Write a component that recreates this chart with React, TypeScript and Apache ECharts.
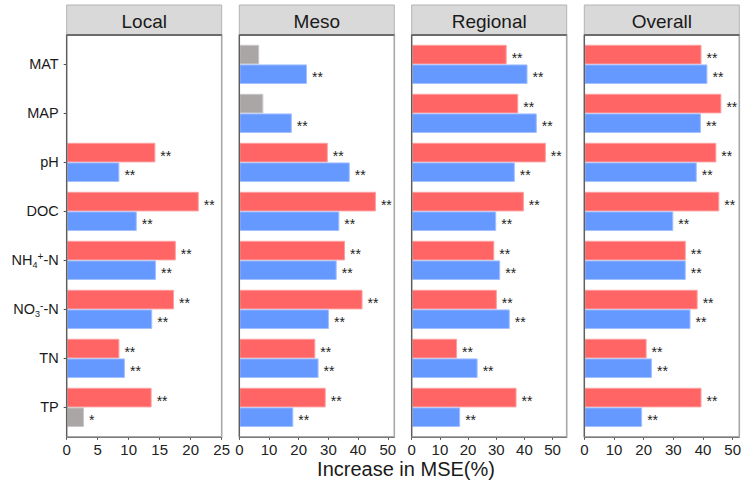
import React, { useEffect, useRef } from 'react';
import * as echarts from 'echarts';

// Predictor variables (top to bottom) and the four spatial scales
const categories = ['MAT', 'MAP', 'pH', 'DOC', 'NH4+-N', 'NO3--N', 'TN', 'TP'];
const panels = ['Local', 'Meso', 'Regional', 'Overall'];

// Increase in MSE (%) – upper (red) and lower (blue) bar of each variable
const localUpper = [null, null, 14.3, 21.3, 17.6, 17.3, 8.5, 13.7];
const localLower = [null, null, 8.5, 11.3, 14.4, 13.8, 9.4, 2.8];
const mesoUpper = [6.7, 8.1, 29.8, 46.0, 35.6, 41.5, 25.6, 29.1];
const mesoLower = [22.8, 17.7, 37.2, 33.7, 32.8, 30.2, 26.7, 18.2];
const regionalUpper = [33.7, 37.8, 47.6, 39.8, 29.3, 30.2, 16.1, 37.2];
const regionalLower = [41.1, 44.4, 36.6, 30.0, 31.4, 34.8, 23.4, 17.2];
const overallUpper = [39.5, 46.2, 44.5, 45.5, 34.2, 38.2, 21.0, 39.5];
const overallLower = [41.5, 39.3, 37.9, 30.0, 34.2, 35.8, 22.8, 19.5];

// Significance marks ('**' bars are coloured, anything else is grey)
const localUpperSig = ['', '', '**', '**', '**', '**', '**', '**'];
const localLowerSig = ['', '', '**', '**', '**', '**', '**', '*'];
const mesoUpperSig = ['', '', '**', '**', '**', '**', '**', '**'];
const mesoLowerSig = ['**', '**', '**', '**', '**', '**', '**', '**'];
const regionalUpperSig = ['**', '**', '**', '**', '**', '**', '**', '**'];
const regionalLowerSig = ['**', '**', '**', '**', '**', '**', '**', '**'];
const overallUpperSig = ['**', '**', '**', '**', '**', '**', '**', '**'];
const overallLowerSig = ['**', '**', '**', '**', '**', '**', '**', '**'];

// x-axis limits and tick steps per panel
const axisMax = [25, 52.2, 55, 52.2];
const axisStep = [5, 10, 10, 10];

const upperSets = [localUpper, mesoUpper, regionalUpper, overallUpper];
const lowerSets = [localLower, mesoLower, regionalLower, overallLower];
const upperSigs = [localUpperSig, mesoUpperSig, regionalUpperSig, overallUpperSig];
const lowerSigs = [localLowerSig, mesoLowerSig, regionalLowerSig, overallLowerSig];

const RED = '#FF6565';
const BLUE = '#6699FF';
const GREY = '#AAA6A6';
const RED_EDGE = '#FF9C9C';
const BLUE_EDGE = '#A3C0FF';
const GREY_EDGE = '#CAC7C7';
const FONT = '"Liberation Sans", Arial, sans-serif';
const AXIS_DARK = '#4D4D4D';

// Layout (pixels)
const panelLefts = [66.7, 239.3, 411.7, 584.3];
const panelWidth = 155;
const stripTop = 5;
const stripHeight = 30;
const panelTop = 35;
const panelBottom = 436.8;
const bandPad = 4.9; // discrete-axis expansion above/below the first/last category

const richLabel = (c: string) => {
  if (c === 'NH4+-N') return '{t|NH}{sub|4}{sup|+}{t|-N}';
  if (c === 'NO3--N') return '{t|NO}{sub|3}{sup|-}{t|-N}';
  return '{t|' + c + '}';
};

function makeBar(name: string, values: (number | null)[], sigs: string[], color: string, edge: string, i: number) {
  return {
    type: 'bar',
    name,
    xAxisIndex: i,
    yAxisIndex: i,
    barGap: '0%',
    barCategoryGap: '20%',
    data: values.map((v, k) => {
      const grey = sigs[k] !== '**';
      return {
        value: v === null ? '-' : v,
        itemStyle: {
          color: grey ? GREY : color,
          borderColor: grey ? GREY_EDGE : edge,
          borderWidth: 1,
        },
      };
    }),
    label: {
      show: true,
      position: 'right',
      distance: 5,
      offset: [0, 3],
      fontFamily: FONT,
      fontSize: 14,
      color: '#222222',
      formatter: (p: any) => (values[p.dataIndex] === null ? '' : sigs[p.dataIndex]),
    },
  };
}

export default function App() {
  const ref = useRef<HTMLDivElement>(null);

  useEffect(() => {
    if (!ref.current) return;
    const chart = echarts.init(ref.current, null, { renderer: 'svg' });

    const grids = panels.map((_, i) => ({
      left: panelLefts[i],
      width: panelWidth,
      top: panelTop + bandPad,
      height: panelBottom - panelTop - 2 * bandPad,
      containLabel: false,
    }));

    const xAxes = panels.map((_, i) => ({
      type: 'value',
      gridIndex: i,
      min: 0,
      max: axisMax[i],
      interval: axisStep[i],
      offset: bandPad,
      splitLine: { show: false },
      axisLine: { show: true, lineStyle: { color: AXIS_DARK, width: 1 } },
      axisTick: { show: true, length: 3, lineStyle: { color: AXIS_DARK } },
      axisLabel: {
        show: true,
        margin: 5,
        fontFamily: FONT,
        fontSize: 15,
        color: '#222222',
        showMaxLabel: i === 0,
        showMinLabel: true,
      },
    }));

    const yAxes = panels.map((_, i) => ({
      type: 'category',
      gridIndex: i,
      data: categories,
      inverse: true,
      axisLine: { show: false },
      axisTick: { show: i === 0, length: 3, alignWithLabel: true, lineStyle: { color: AXIS_DARK } },
      axisLabel: {
        show: i === 0,
        margin: 8,
        formatter: richLabel,
        rich: {
          t: { fontFamily: FONT, fontSize: 14.5, color: '#1A1A1A', lineHeight: 18 },
          sub: { fontFamily: FONT, fontSize: 9, color: '#1A1A1A', lineHeight: 10, verticalAlign: 'bottom' },
          sup: { fontFamily: FONT, fontSize: 10, color: '#1A1A1A', lineHeight: 10, verticalAlign: 'top' },
        },
      },
      splitLine: { show: false },
    }));

    const series = panels.flatMap((_, i) => [
      makeBar('upper', upperSets[i], upperSigs[i], RED, RED_EDGE, i),
      makeBar('lower', lowerSets[i], lowerSigs[i], BLUE, BLUE_EDGE, i),
    ]);

    const graphics: any[] = [];
    panels.forEach((title, i) => {
      const x = panelLefts[i];
      // facet strip
      graphics.push({
        type: 'rect',
        shape: { x, y: stripTop, width: panelWidth, height: stripHeight },
        style: { fill: '#D9D9D9', stroke: '#B3B3B3', lineWidth: 1 },
        z: 10,
      });
      graphics.push({
        type: 'text',
        x: x + panelWidth / 2,
        y: stripTop + stripHeight / 2 + 1,
        style: {
          text: title,
          fontFamily: FONT,
          fontSize: 19,
          fill: '#1A1A1A',
          textAlign: 'center',
          textVerticalAlign: 'middle',
        },
        z: 11,
      });
      // panel border
      graphics.push({
        type: 'rect',
        shape: { x, y: panelTop, width: panelWidth, height: panelBottom - panelTop },
        style: { fill: 'none', stroke: '#A8A8A8', lineWidth: 1.6 },
        z: 10,
      });
      // strip bottom edge and left axis line
      graphics.push({
        type: 'line',
        shape: { x1: x, y1: panelTop, x2: x + panelWidth, y2: panelTop },
        style: { stroke: '#555555', lineWidth: 1.4 },
        z: 12,
      });
      graphics.push({
        type: 'line',
        shape: { x1: x, y1: panelTop, x2: x, y2: panelBottom },
        style: { stroke: AXIS_DARK, lineWidth: 1 },
        z: 12,
      });
    });
    graphics.push({
      type: 'text',
      x: 406,
      y: 469,
      style: {
        text: 'Increase in MSE(%)',
        fontFamily: FONT,
        fontSize: 20,
        fill: '#1A1A1A',
        textAlign: 'center',
        textVerticalAlign: 'middle',
      },
    });

    chart.setOption({
      animation: false,
      backgroundColor: '#FFFFFF',
      grid: grids,
      xAxis: xAxes,
      yAxis: yAxes,
      series,
      graphic: graphics,
    });

    return () => chart.dispose();
  }, []);

  return <div ref={ref} style={{ position: 'fixed', left: 0, top: 0, width: 744, height: 486 }} />;
}
